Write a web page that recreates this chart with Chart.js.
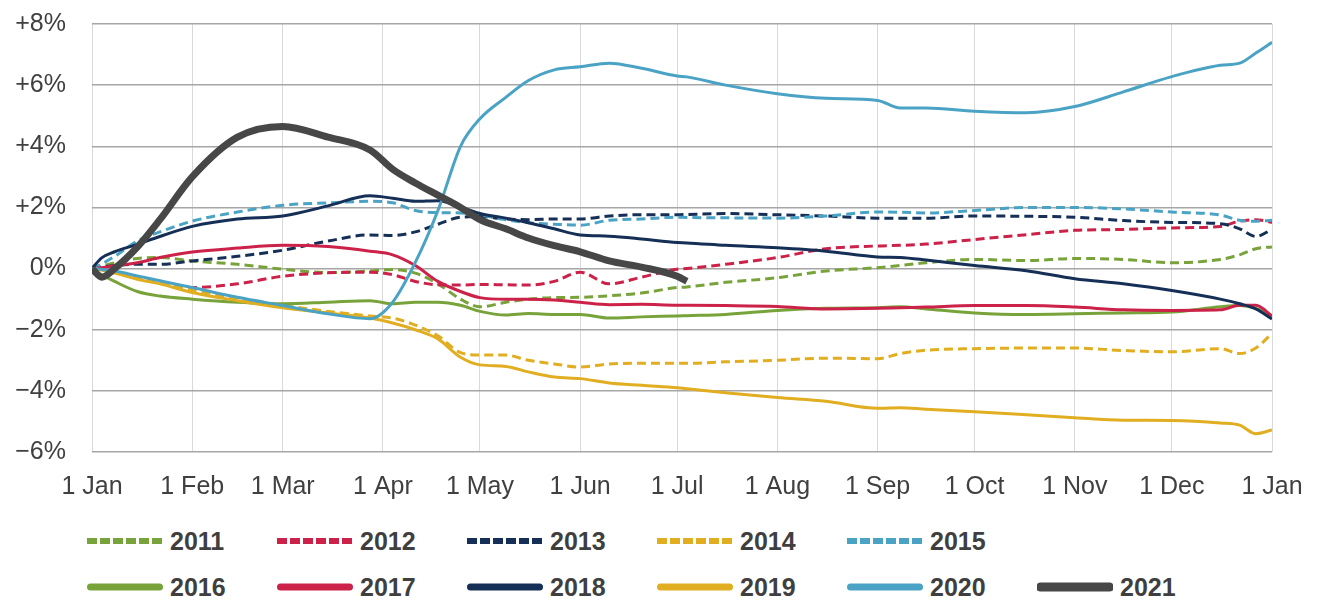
<!DOCTYPE html>
<html lang="en">
<head>
<meta charset="UTF-8">
<title>Cumulative change by year</title>
<style>
    body {
        margin: 0;
        background: #fff;
        font-family: "Liberation Sans", Arial, sans-serif;
    }
    #wrap {
        position: relative;
        width: 1320px;
        height: 602px;
    }
    #legend .item {
        position: absolute;
        display: flex;
        align-items: center;
        height: 30px;
    }
    #legend .item span {
        font-weight: bold;
        font-size: 25px;
        color: #3f3f3f;
        margin-left: 7px;
    }
</style>
<script src="https://cdn.jsdelivr.net/npm/chart.js"></script>
</head>
<body>
<div id="wrap">
    <canvas id="chart" width="1320" height="512"></canvas>
    <div id="legend"></div>
</div>
<script>
    // day of year for each reading (0 = 1 Jan, 365 = 1 Jan next year)
    const days = [0, 3, 7, 14, 21, 31, 45, 59, 73, 86, 93, 100, 107, 114, 120, 128, 135, 143, 151, 160,
                  170, 181, 184, 196, 212, 227, 243, 250, 258, 273, 289, 304, 319, 334, 349, 355, 360, 365];

    const monthStarts = [0, 31, 59, 90, 120, 151, 181, 212, 243, 273, 304, 334, 365];
    const monthLabels = ['1 Jan', '1 Feb', '1 Mar', '1 Apr', '1 May', '1 Jun', '1 Jul',
                         '1 Aug', '1 Sep', '1 Oct', '1 Nov', '1 Dec', '1 Jan'];
    const yTicks = [-6, -4, -2, 0, 2, 4, 6, 8];
    const yTickLabels = ['\u22126%', '\u22124%', '\u22122%', '0%', '+2%', '+4%', '+6%', '+8%'];

    const years = ['2011', '2012', '2013', '2014', '2015', '2016', '2017', '2018', '2019', '2020', '2021'];

    const v2011 = [0, 0.08, 0.19, 0.33, 0.36, 0.25, 0.14, -0.02, -0.13, -0.08, -0.03, -0.15, -0.5, -1.0, -1.25, -1.1, -1.0, -0.95, -0.94, -0.89,
                   -0.8, -0.62, -0.6, -0.45, -0.3, -0.08, 0.03, 0.1, 0.19, 0.3, 0.26, 0.33, 0.3, 0.19, 0.3, 0.45, 0.65, 0.71];
    const v2012 = [0, -0.03, -0.13, -0.3, -0.48, -0.62, -0.5, -0.25, -0.14, -0.12, -0.2, -0.42, -0.53, -0.54, -0.52, -0.53, -0.54, -0.42, -0.12, -0.5,
                   -0.28, -0.02, 0.0, 0.14, 0.36, 0.65, 0.74, 0.76, 0.8, 0.95, 1.11, 1.25, 1.28, 1.33, 1.38, 1.55, 1.6, 1.51];
    const v2013 = [0, 0.05, 0.1, 0.14, 0.14, 0.25, 0.4, 0.6, 0.9, 1.1, 1.08, 1.2, 1.45, 1.68, 1.7, 1.62, 1.6, 1.62, 1.62, 1.72,
                   1.76, 1.76, 1.77, 1.8, 1.76, 1.72, 1.65, 1.65, 1.65, 1.72, 1.71, 1.68, 1.57, 1.51, 1.47, 1.3, 1.05, 1.28];
    const v2014 = [0, -0.05, -0.12, -0.3, -0.45, -0.7, -0.98, -1.2, -1.4, -1.55, -1.62, -1.85, -2.2, -2.75, -2.83, -2.83, -3.0, -3.12, -3.22, -3.12,
                   -3.1, -3.1, -3.1, -3.05, -3.0, -2.93, -2.95, -2.78, -2.67, -2.62, -2.6, -2.6, -2.68, -2.72, -2.62, -2.78, -2.6, -2.12];
    const v2015 = [0, 0.15, 0.4, 0.9, 1.2, 1.55, 1.85, 2.07, 2.15, 2.2, 2.15, 1.9, 1.83, 1.82, 1.75, 1.6, 1.5, 1.45, 1.42, 1.58,
                   1.62, 1.68, 1.67, 1.66, 1.65, 1.72, 1.85, 1.84, 1.82, 1.9, 2.0, 2.0, 1.95, 1.85, 1.75, 1.58, 1.55, 1.58];
    const v2016 = [0, -0.2, -0.42, -0.75, -0.9, -1.0, -1.1, -1.15, -1.1, -1.05, -1.15, -1.1, -1.1, -1.2, -1.4, -1.52, -1.47, -1.5, -1.5, -1.62,
                   -1.58, -1.55, -1.54, -1.5, -1.37, -1.3, -1.28, -1.25, -1.32, -1.45, -1.5, -1.48, -1.45, -1.42, -1.25, -1.21, -1.3, -1.55];
    const v2017 = [0, 0.03, 0.09, 0.19, 0.36, 0.54, 0.67, 0.76, 0.72, 0.57, 0.45, 0.1, -0.42, -0.75, -0.95, -1.0, -1.0, -1.03, -1.1, -1.18,
                   -1.17, -1.2, -1.2, -1.21, -1.24, -1.32, -1.3, -1.28, -1.26, -1.21, -1.21, -1.26, -1.35, -1.37, -1.35, -1.2, -1.2, -1.55];
    const v2018 = [0, 0.35, 0.55, 0.79, 1.05, 1.38, 1.62, 1.72, 2.05, 2.38, 2.3, 2.2, 2.22, 2.02, 1.8, 1.65, 1.5, 1.3, 1.1, 1.06,
                   0.97, 0.85, 0.84, 0.76, 0.68, 0.57, 0.38, 0.36, 0.28, 0.1, -0.07, -0.33, -0.5, -0.72, -1.0, -1.15, -1.32, -1.65];
    const v2019 = [0, -0.05, -0.15, -0.35, -0.5, -0.78, -1.05, -1.28, -1.45, -1.62, -1.78, -2.0, -2.3, -2.9, -3.15, -3.2, -3.38, -3.55, -3.6, -3.74,
                   -3.82, -3.9, -3.93, -4.06, -4.22, -4.34, -4.57, -4.55, -4.6, -4.68, -4.78, -4.88, -4.96, -4.97, -5.05, -5.12, -5.4, -5.28];
    const v2020 = [0, -0.03, -0.08, -0.24, -0.4, -0.62, -0.94, -1.21, -1.48, -1.64, -1.1, 0.2, 1.9, 4.0, 4.9, 5.6, 6.15, 6.5, 6.6, 6.72,
                   6.55, 6.3, 6.27, 6.0, 5.72, 5.57, 5.5, 5.25, 5.25, 5.15, 5.1, 5.3, 5.78, 6.28, 6.65, 6.72, 7.05, 7.4];
    const v2021 = [0, -0.28, 0.0, 0.7, 1.6, 3.0, 4.3, 4.65, 4.3, 3.88, 3.25, 2.8, 2.4, 2.0, 1.6, 1.3, 1.0, 0.75, 0.55, 0.25,
                   0.05, -0.25, -0.42, null, null, null, null, null, null, null, null, null, null, null, null, null, null, null];

    const series = [v2011, v2012, v2013, v2014, v2015, v2016, v2017, v2018, v2019, v2020, v2021];
    const colors = ['#78a33a', '#cc2148', '#152f56', '#e1ad21', '#4aa3c4',
                    '#78a33a', '#cc2148', '#152f56', '#e1ad21', '#4aa3c4', '#474747'];

    Chart.defaults.font.family = '"Liberation Sans", Arial, sans-serif';
    Chart.defaults.color = '#404040';

    const datasets = years.map((year, i) => ({
        label: year,
        data: days.map((d, j) => ({ x: d, y: series[i][j] })),
        borderColor: colors[i],
        backgroundColor: colors[i],
        borderWidth: year === '2021' ? 7 : 3,
        borderDash: i < 5 ? [9, 5] : [],
        pointRadius: 0,
        cubicInterpolationMode: 'monotone',
        borderJoinStyle: 'round',
        spanGaps: false,
        order: years.length - i
    }));

    const ctx = document.getElementById('chart').getContext('2d');
    const chart = new Chart(ctx, {
        type: 'line',
        data: { datasets: datasets },
        options: {
            responsive: false,
            animation: false,
            devicePixelRatio: 1,
            layout: { padding: { top: 24, right: 48, left: 0, bottom: 0 } },
            plugins: {
                legend: { display: false },
                tooltip: { enabled: false }
            },
            scales: {
                x: {
                    type: 'linear',
                    min: 0,
                    max: 365,
                    afterBuildTicks: s => { s.ticks = monthStarts.map(v => ({ value: v })); },
                    afterFit: s => { s.height = 60; s.paddingLeft = 0; s.paddingRight = 0; },
                    ticks: {
                        autoSkip: false,
                        maxRotation: 0,
                        padding: 20,
                        font: { size: 25 },
                        callback: v => monthLabels[monthStarts.indexOf(v)]
                    },
                    grid: { color: '#d9d9d9', lineWidth: 1, drawTicks: false },
                    border: { display: false }
                },
                y: {
                    min: -6,
                    max: 8,
                    afterBuildTicks: s => { s.ticks = yTicks.map(v => ({ value: v })); },
                    afterFit: s => { s.width = 92; s.paddingTop = 0; s.paddingBottom = 0; },
                    ticks: {
                        padding: 26,
                        font: { size: 25 },
                        callback: v => yTickLabels[yTicks.indexOf(v)]
                    },
                    grid: { color: '#a6a6a6', lineWidth: 1.5, drawTicks: false },
                    border: { display: false }
                }
            }
        }
    });

    // legend below the chart: 2011-2015 on the first row, 2016-2021 on the second
    const legendEl = document.getElementById('legend');
    chart.data.datasets.forEach((ds, i) => {
        const row = i < 5 ? 0 : 1;
        const col = i < 5 ? i : i - 5;
        const item = document.createElement('div');
        item.className = 'item';
        item.style.left = (87 + col * 190) + 'px';
        item.style.top = (row === 0 ? 526 : 572) + 'px';
        const dashed = ds.borderDash.length > 0;
        const w = ds.label === '2021' ? 9 : (dashed ? 6 : 7);
        item.innerHTML =
            '<svg width="76" height="12"><line x1="' + (dashed ? 0 : 3.5) + '" y1="6" x2="' + (dashed ? 76 : 72.5) +
            '" y2="6" stroke="' + ds.borderColor + '" stroke-width="' + w + '"' +
            (dashed ? ' stroke-dasharray="10 3"' : ' stroke-linecap="round"') + '/></svg>' +
            '<span>' + ds.label + '</span>';
        legendEl.appendChild(item);
    });
</script>
</body>
</html>
